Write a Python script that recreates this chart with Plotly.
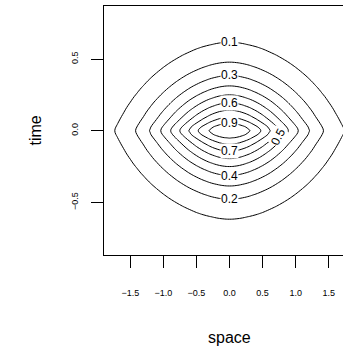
import numpy as np
import plotly.graph_objects as go

# Profile of the surface along space (time = 0)
space_x = [0.0, 0.1, 0.2, 0.3, 0.4, 0.5, 0.6, 0.7, 0.8, 0.9, 1.0,
           1.1, 1.2, 1.3, 1.4, 1.5, 1.6, 1.7, 1.8, 1.9, 2.0]
space_profile = [1.0, 0.987, 0.954, 0.907, 0.848, 0.782, 0.711, 0.637, 0.564, 0.492, 0.425,
                 0.362, 0.305, 0.253, 0.208, 0.169, 0.136, 0.108, 0.085, 0.066, 0.051]

# Profile of the surface along time (space = 0)
time_t = [0.0, 0.025, 0.05, 0.075, 0.1, 0.125, 0.15, 0.175, 0.2, 0.225, 0.25,
          0.275, 0.3, 0.325, 0.35, 0.375, 0.4, 0.425, 0.45, 0.475, 0.5,
          0.525, 0.55, 0.575, 0.6, 0.625, 0.65, 0.675, 0.7, 0.75, 0.8, 0.85, 0.9]
time_profile = [1.0, 0.966, 0.904, 0.843, 0.788, 0.737, 0.686, 0.637, 0.590, 0.544, 0.500,
                0.458, 0.419, 0.381, 0.346, 0.313, 0.282, 0.253, 0.227, 0.203, 0.180,
                0.160, 0.141, 0.125, 0.109, 0.096, 0.084, 0.073, 0.063, 0.047, 0.034, 0.025, 0.018]

levels = [0.1, 0.2, 0.3, 0.4, 0.5, 0.6, 0.7, 0.8, 0.9]
x_ticks = [-1.5, -1.0, -0.5, 0.0, 0.5, 1.0, 1.5]
x_tick_text = ["\u22121.5", "\u22121.0", "\u22120.5", "0.0", "0.5", "1.0", "1.5"]
y_ticks = [-0.5, 0.0, 0.5]
y_tick_text = ["\u22120.5", "0.0", "0.5"]

# label placement (style): which contour gets its label where
label_side = {0.1: "top", 0.3: "top", 0.6: "top", 0.9: "top",
              0.2: "bottom", 0.4: "bottom", 0.7: "bottom", 0.5: "right"}

# symmetric grid built from the profiles (separable surface)
sx = np.array(space_x); sp = np.array(space_profile)
tt = np.array(time_t); tp = np.array(time_profile)
full_x = np.concatenate([-sx[:0:-1], sx])
full_xp = np.concatenate([sp[:0:-1], sp])
full_t = np.concatenate([-tt[:0:-1], tt])
full_tp = np.concatenate([tp[:0:-1], tp])
z = np.outer(full_tp, full_xp)

FONT = "Liberation Sans, Arial, Helvetica, sans-serif"

fig = go.Figure()
fig.add_trace(go.Contour(
    x=full_x, y=full_t, z=z,
    contours=dict(start=levels[0], end=levels[-1], size=0.1, coloring="none", showlabels=False),
    line=dict(color="black", width=1, smoothing=1.3),
    showscale=False, hoverinfo="skip",
))

annotations = []
for lev, side in label_side.items():
    shift = 0
    if side in ("top", "bottom"):
        t_c = float(np.interp(lev, tp[::-1], tt[::-1]))
        xpos, ypos, ang = 0.0, (t_c if side == "top" else -t_c), 0
    else:
        t0 = 0.045
        Tt = float(np.interp(t0, tt, tp))
        xpos = float(np.interp(lev / Tt, sp[::-1], sx[::-1]))
        ypos, ang, shift = -t0, -63, -6
    annotations.append(dict(x=xpos, y=ypos, xref="x", yref="y", text=f"{lev:.1f}",
                            showarrow=False, bgcolor="white", borderpad=0, textangle=ang,
                            xshift=shift,
                            font=dict(family=FONT, size=12, color="black")))

annotations.append(dict(x=0.0, xref="x", y=0, yref="paper", yanchor="middle", yshift=-82,
                        text="space", showarrow=False,
                        font=dict(family=FONT, size=16, color="black")))
annotations.append(dict(x=0, xref="paper", xanchor="center", xshift=-69, y=0.5, yref="paper",
                        text="time", textangle=-90, showarrow=False,
                        font=dict(family=FONT, size=16, color="black")))

fig.update_layout(
    width=343, height=350,
    margin=dict(l=104, r=0, t=6, b=95, pad=0),
    paper_bgcolor="white", plot_bgcolor="white",
    showlegend=False,
    annotations=annotations,
    font=dict(family=FONT, color="black"),
)
fig.update_xaxes(range=[-1.898, 1.716], showgrid=False, zeroline=False,
                 showline=True, linecolor="black", linewidth=1, mirror=True,
                 ticks="outside", ticklen=12, tickwidth=1, tickcolor="black",
                 tickvals=x_ticks, ticktext=x_tick_text,
                 tickfont=dict(family=FONT, size=9, color="black"),
                 ticklabelstandoff=17)
fig.update_yaxes(range=[-0.867, 0.870], showgrid=False, zeroline=False,
                 showline=True, linecolor="black", linewidth=1, mirror=False,
                 ticks="outside", ticklen=12, tickwidth=1, tickcolor="black",
                 tickvals=y_ticks, ticktext=y_tick_text, tickangle=-90,
                 tickfont=dict(family=FONT, size=9, color="black"),
                 ticklabelstandoff=9)

fig.write_html("out.html", config={"displayModeBar": False},
               post_script="document.body.style.margin='0';document.body.style.overflow='hidden';")
